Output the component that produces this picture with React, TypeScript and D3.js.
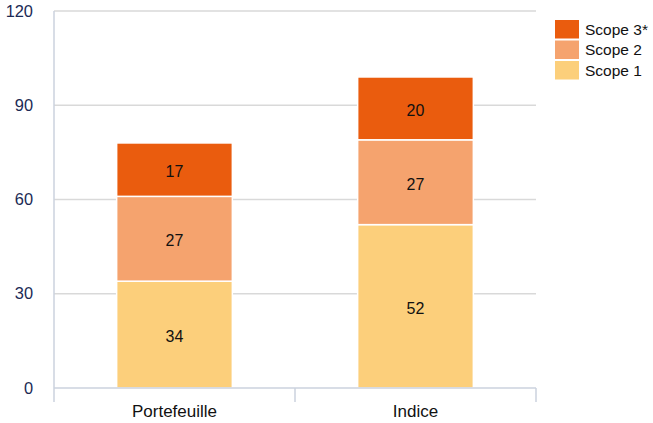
import React from "react";
import * as d3 from "d3";

const categories = ["Portefeuille", "Indice"];
const scope1 = [34, 52];
const scope2 = [27, 27];
const scope3 = [17, 20];
const yTicks = [0, 30, 60, 90, 120];
const seriesNames = ["Scope 1", "Scope 2", "Scope 3*"];
const seriesColors = ["#FCCF7B", "#F5A36E", "#EA5C0E"];

const W = 653;
const H = 423;
const margin = { top: 11, right: 117, bottom: 35, left: 54 };
const font = "Arial, 'Liberation Sans', sans-serif";

function App() {
  const rows = categories.map((c, i) => ({
    cat: c,
    s1: scope1[i],
    s2: scope2[i],
    s3: scope3[i],
  }));
  const keys = ["s1", "s2", "s3"];
  const layers = d3.stack().keys(keys)(rows as any);

  const x = d3
    .scaleBand()
    .domain(categories)
    .range([margin.left, W - margin.right])
    .paddingInner(0)
    .paddingOuter(0);
  const y = d3
    .scaleLinear()
    .domain([0, 120])
    .range([H - margin.bottom, margin.top]);

  const barW = x.bandwidth() * 0.48;
  const x0 = margin.left;
  const x1 = W - margin.right;
  const yBase = y(0);

  return (
    <svg width={W} height={H} style={{ position: "absolute", left: 0, top: 0, background: "#fff" }}>
      {/* gridlines */}
      {yTicks.slice(1).map((t) => (
        <line key={t} x1={x0} x2={x1} y1={y(t)} y2={y(t)} stroke="#D9D9D9" strokeWidth={1.5} />
      ))}
      {/* y labels */}
      {yTicks.map((t) => (
        <text
          key={t}
          x={33}
          y={y(t)}
          dy="0.35em"
          textAnchor="end"
          fontFamily={font}
          fontSize={16.4}
          fill="#1B2A55"
        >
          {t}
        </text>
      ))}
      {/* bars */}
      {layers.map((layer, li) => (
        <g key={layer.key} fill={seriesColors[li]}>
          {layer.map((d, i) => {
            const bx = (x(categories[i]) as number) + (x.bandwidth() - barW) / 2;
            return (
              <rect
                key={i}
                x={bx}
                y={y(d[1])}
                width={barW}
                height={y(d[0]) - y(d[1])}
                stroke="#fff"
                strokeWidth={1.5}
              />
            );
          })}
        </g>
      ))}
      {/* value labels */}
      {layers.map((layer) =>
        layer.map((d, i) => (
          <text
            key={layer.key + i}
            x={(x(categories[i]) as number) + x.bandwidth() / 2}
            y={(y(d[0]) + y(d[1])) / 2 + 2}
            dy="0.35em"
            textAnchor="middle"
            fontFamily={font}
            fontSize={16}
            fill="#111"
          >
            {d[1] - d[0]}
          </text>
        ))
      )}
      {/* axes */}
      <line x1={x0} x2={x0} y1={margin.top} y2={yBase} stroke="#CBD2DE" strokeWidth={1.5} />
      <line x1={x0} x2={x1} y1={yBase} y2={yBase} stroke="#CBD2DE" strokeWidth={1.5} />
      {[x0, ...categories.map((c) => (x(c) as number) + x.bandwidth())].map((tx, i) => (
        <line key={i} x1={tx} x2={tx} y1={yBase} y2={yBase + 14} stroke="#CBD2DE" strokeWidth={1.5} />
      ))}
      {categories.map((c) => (
        <text
          key={c}
          x={(x(c) as number) + x.bandwidth() / 2}
          y={411}
          dy="0.35em"
          textAnchor="middle"
          fontFamily={font}
          fontSize={17}
          fill="#111"
        >
          {c}
        </text>
      ))}
      {/* legend */}
      {seriesNames
        .map((n, i) => ({ n, c: seriesColors[i] }))
        .reverse()
        .map((s, i) => (
          <g key={s.n} transform={`translate(555, ${20 + i * 20.5})`}>
            <rect width={24} height={18.5} fill={s.c} />
            <text x={30} y={9.5} dy="0.35em" fontFamily={font} fontSize={15.5} fill="#111">
              {s.n}
            </text>
          </g>
        ))}
    </svg>
  );
}

export default App;
